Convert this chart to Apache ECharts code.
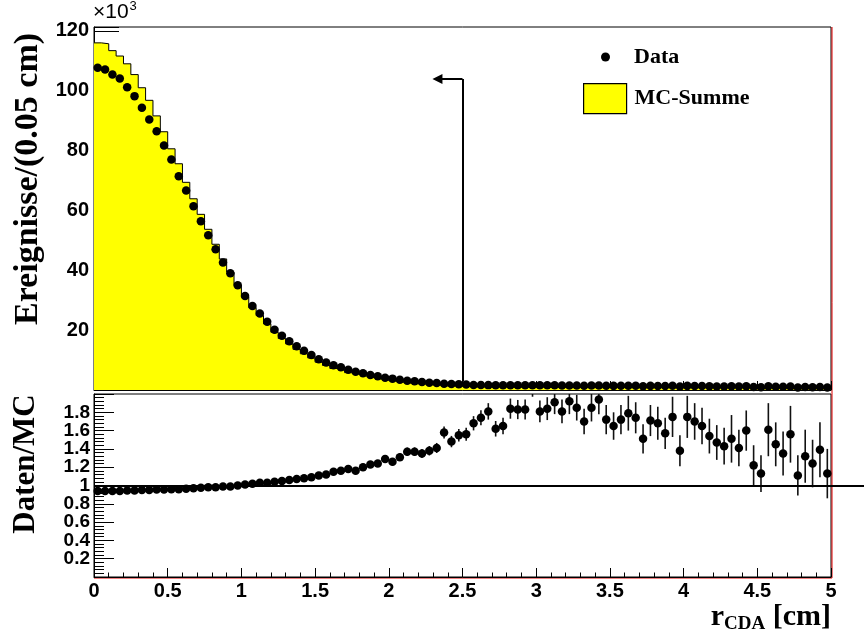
<!DOCTYPE html>
<html><head><meta charset="utf-8">
<script src="https://cdn.jsdelivr.net/npm/echarts@6/dist/echarts.min.js"></script>
<style>html,body{margin:0;padding:0;background:#fff}#c{width:864px;height:642px}</style>
</head><body><div id="c"></div>
<script>
// bin width of r_CDA histogram (cm)
const binWidth = 0.05;
const nBins = 100;
// Data counts per bin (in units of 10^3)
const dataCounts = [
  107.7,107.1,105.4,104.1,101.2,98.2,94.3,90.4,86.5,81.7,
  77.0,71.4,66.7,61.4,56.4,51.7,47.0,42.6,39.0,35.0,
  31.4,28.1,25.6,22.8,20.1,18.1,16.3,14.6,13.1,11.7,
  10.3,9.2,8.3,7.6,6.8,6.1,5.6,5.0,4.6,4.1,
  3.8,3.4,3.1,2.9,2.7,2.4,2.3,2.1,2.0,1.9,
  1.8,1.7,1.66,1.63,1.58,1.6,1.62,1.57,1.6,1.55,
  1.55,1.56,1.58,1.5,1.54,1.48,1.42,1.5,1.52,1.42,
  1.38,1.41,1.43,1.4,1.28,1.38,1.35,1.3,1.4,1.16,
  1.38,1.33,1.3,1.24,1.2,1.18,1.22,1.15,1.25,0.98,
  0.92,1.24,1.12,1.05,1.18,0.85,1.0,0.95,1.04,0.86
];
// MC sum per bin (in units of 10^3)
const mcCounts = [
  116.0,115.7,113.4,111.6,109.0,105.4,101.0,96.8,91.6,86.3,
  80.6,75.6,69.4,63.9,58.7,53.7,48.7,43.8,39.4,35.0,
  31.1,27.5,24.9,22.1,19.3,17.2,15.4,13.6,12.1,10.7,
  9.3,8.2,7.2,6.6,5.8,5.3,4.7,4.1,3.7,3.2,
  3.0,2.6,2.3,2.1,2.0,1.74,1.63,1.33,1.35,1.23,
  1.15,1.01,0.95,0.9,0.97,0.97,0.88,0.88,0.87,0.8,
  0.86,0.85,0.83,0.83,0.8,0.8,0.84,0.81,0.78,0.83,
  0.84,0.82,0.8,0.8,0.85,0.81,0.8,0.83,0.8,0.84,
  0.79,0.78,0.79,0.81,0.82,0.83,0.81,0.82,0.78,0.8,
  0.81,0.77,0.77,0.78,0.76,0.77,0.76,0.77,0.75,0.76
];
// Data / MC ratio per bin
const ratioValues = [
  0.94,0.94,0.94,0.94,0.945,0.945,0.95,0.95,0.955,0.955,
  0.96,0.96,0.965,0.97,0.975,0.98,0.98,0.99,0.99,1.0,
  1.01,1.02,1.03,1.03,1.04,1.05,1.06,1.07,1.08,1.09,
  1.11,1.12,1.15,1.16,1.18,1.16,1.20,1.23,1.24,1.29,
  1.26,1.31,1.37,1.37,1.35,1.38,1.41,1.58,1.48,1.55,
  1.56,1.68,1.74,1.81,1.62,1.65,1.84,1.83,1.83,2.1,
  1.81,1.84,1.91,1.81,1.92,1.85,1.70,1.85,1.94,1.72,
  1.65,1.72,1.79,1.74,1.51,1.71,1.68,1.57,1.75,1.38,
  1.75,1.70,1.65,1.54,1.47,1.43,1.51,1.41,1.60,1.22,
  1.13,1.61,1.45,1.35,1.56,1.11,1.32,1.24,1.39,1.13
];
// ratio uncertainties
const ratioErrors = [
  0.004,0.004,0.004,0.004,0.004,0.004,0.004,0.004,0.004,0.004,
  0.005,0.005,0.005,0.006,0.006,0.006,0.007,0.007,0.008,0.008,
  0.009,0.01,0.01,0.011,0.012,0.013,0.014,0.015,0.016,0.018,
  0.02,0.021,0.023,0.025,0.027,0.028,0.03,0.032,0.034,0.037,
  0.04,0.042,0.045,0.047,0.05,0.052,0.055,0.065,0.062,0.068,
  0.07,0.078,0.082,0.09,0.085,0.09,0.11,0.105,0.11,0.13,
  0.12,0.125,0.13,0.13,0.14,0.14,0.14,0.15,0.16,0.16,
  0.15,0.16,0.19,0.17,0.16,0.17,0.18,0.17,0.22,0.17,
  0.23,0.2,0.2,0.19,0.19,0.2,0.26,0.2,0.22,0.22,
  0.2,0.29,0.24,0.24,0.31,0.22,0.29,0.26,0.3,0.27
];
// cut marker: r_CDA < 2.5 cm
const cutValue = 2.5;
const cutArrowBottom = 2.8;
const cutArrowTop = 103.9;
const cutArrowEnd = 2.33;
const ratioReference = 1;
const ratioLineEnd = 5.3;
const legendNames = ['Data', 'MC-Summe'];

const binCenter = i => (i + 0.5) * binWidth;
const mcStep = mcCounts.map((v, i) => [i * binWidth, v]);
mcStep.push([nBins * binWidth, mcCounts[nBins - 1]]);

const tickFont = {fontFamily: 'Liberation Sans', fontWeight: 'bold', color: '#000'};
const serifBold = 'Liberation Serif';

const chart = echarts.init(document.getElementById('c'), null, {renderer: 'canvas'});
const axisCommon = {
  type: 'value', min: 0, max: 5, interval: 0.5,
  axisLine: {show: true, onZero: false, lineStyle: {color: '#000', width: 1}},
  axisTick: {show: true, inside: true, length: 9, lineStyle: {color: '#000', width: 1}},
  minorTick: {show: true, splitNumber: 5, length: 4.5, lineStyle: {color: '#000', width: 1}},
  splitLine: {show: false}
};
chart.setOption({
  animation: false,
  backgroundColor: '#fff',
  grid: [
    {left: 94, width: 737, top: 27, height: 363, show: true, borderColor: '#000', borderWidth: 1, backgroundColor: 'transparent'},
    {left: 94, width: 737, top: 394, height: 183, show: true, borderColor: '#000', borderWidth: 1, backgroundColor: 'transparent'}
  ],
  xAxis: [
    Object.assign({}, axisCommon, {gridIndex: 0, axisLabel: {show: false}}),
    Object.assign({}, axisCommon, {gridIndex: 1, axisLabel: Object.assign({show: true, fontSize: 20, margin: 4,
      formatter: v => String(+v.toFixed(1))}, tickFont)})
  ],
  yAxis: [
    {gridIndex: 0, type: 'value', min: 0, max: 121.3, interval: 20,
     axisLine: {show: true, onZero: false, lineStyle: {color: '#000', width: 1}},
     axisTick: {show: true, inside: true, length: 25, lineStyle: {color: '#000'}},
     minorTick: {show: true, splitNumber: 4, length: 12, lineStyle: {color: '#000'}},
     splitLine: {show: false},
     axisLabel: Object.assign({fontSize: 20, margin: 5,
       formatter: v => (v > 0 && Math.abs(v / 20 - Math.round(v / 20)) < 1e-6) ? String(Math.round(v)) : ''}, tickFont)},
    {gridIndex: 1, type: 'value', min: 0, max: 2, interval: 0.2,
     axisLine: {show: true, onZero: false, lineStyle: {color: '#000', width: 1}},
     axisTick: {show: true, inside: true, length: 20, lineStyle: {color: '#000'}},
     minorTick: {show: true, splitNumber: 5, length: 10, lineStyle: {color: '#000'}},
     splitLine: {show: false},
     axisLabel: Object.assign({fontSize: 19, margin: 4, lineHeight: 18,
       formatter: v => (v > 0.01 && v < 1.99) ? String(+v.toFixed(1)) : ''}, tickFont)}
  ],
  legend: [
    {data: [{name: legendNames[0], icon: 'circle'}], left: 601, top: 46, padding: 0, itemWidth: 9, itemHeight: 9,
     textStyle: {fontFamily: serifBold, fontWeight: 'bold', fontSize: 22, color: '#000', padding: [0, 0, 0, 19]},
     selectedMode: false},
    {data: [{name: legendNames[1], icon: 'rect'}], left: 583, top: 83, padding: 0, itemWidth: 43, itemHeight: 30,
     itemStyle: {color: '#ffff00', borderColor: '#000', borderWidth: 1.2},
     textStyle: {fontFamily: serifBold, fontWeight: 'bold', fontSize: 22, color: '#000', padding: [0, 0, 0, 3]},
     selectedMode: false}
  ],
  series: [
    {name: legendNames[1], type: 'line', xAxisIndex: 0, yAxisIndex: 0, step: 'end', data: mcStep,
     symbol: 'none', color: '#ffff00', itemStyle: {color: '#ffff00'},
     lineStyle: {color: '#000', width: 1}, areaStyle: {color: '#ffff00', opacity: 1}, z: 1},
    {name: legendNames[0], type: 'scatter', xAxisIndex: 0, yAxisIndex: 0,
     data: dataCounts.map((v, i) => [binCenter(i), v]), symbol: 'circle', symbolSize: 8.5,
     itemStyle: {color: '#000', opacity: 1}, z: 3},
    {type: 'lines', coordinateSystem: 'cartesian2d', xAxisIndex: 0, yAxisIndex: 0, silent: true,
     data: [{coords: [[cutValue, cutArrowBottom], [cutValue, cutArrowTop]]}],
     lineStyle: {color: '#000', width: 2, opacity: 1}, symbol: ['none', 'none'], z: 4},
    {type: 'lines', coordinateSystem: 'cartesian2d', xAxisIndex: 0, yAxisIndex: 0, silent: true,
     data: [{coords: [[cutValue, cutArrowTop], [cutArrowEnd, cutArrowTop]]}],
     lineStyle: {color: '#000', width: 2, opacity: 1}, symbol: ['none', 'triangle'], symbolSize: 10, z: 4},
    {type: 'custom', xAxisIndex: 1, yAxisIndex: 1, clip: true, silent: true,
     data: ratioValues.map((v, i) => [binCenter(i), v - ratioErrors[i], v + ratioErrors[i]]),
     encode: {x: 0, y: [1, 2]},
     renderItem: (params, api) => {
       const x = api.value(0);
       const p1 = api.coord([x, api.value(1)]);
       const p2 = api.coord([x, api.value(2)]);
       return {type: 'line', shape: {x1: p1[0], y1: p1[1], x2: p2[0], y2: p2[1]},
               style: {stroke: '#111', lineWidth: 1.6}};
     }, z: 2},
    {type: 'scatter', xAxisIndex: 1, yAxisIndex: 1, clip: true,
     data: ratioValues.map((v, i) => [binCenter(i), v]), symbol: 'circle', symbolSize: 8.5,
     itemStyle: {color: '#000', opacity: 1}, z: 3},
    {type: 'lines', coordinateSystem: 'cartesian2d', xAxisIndex: 1, yAxisIndex: 1, clip: false, silent: true,
     data: [{coords: [[0, ratioReference], [ratioLineEnd, ratioReference]]}],
     lineStyle: {color: '#000', width: 2, opacity: 1}, z: 4}
  ],
  graphic: [
    {type: 'text', x: 93, y: 24, style: {text: '×10{s|3}', fill: '#000',
      font: '21px "Liberation Sans"', verticalAlign: 'bottom',
      rich: {s: {fontSize: 13, fontFamily: 'Liberation Sans', verticalAlign: 'top', padding: [0, 0, 11, 1]}}}},
    {type: 'text', x: 28, y: 179, rotation: Math.PI / 2, style: {text: 'Ereignisse/(0.05 cm)', fill: '#000',
      font: 'bold 34px "Liberation Serif"', align: 'center', verticalAlign: 'middle'}},
    {type: 'text', x: 26, y: 464, rotation: Math.PI / 2, style: {text: 'Daten/MC', fill: '#000',
      font: 'bold 31px "Liberation Serif"', align: 'center', verticalAlign: 'middle'}},
    {type: 'text', x: 831, y: 634, style: {text: 'r{sub|CDA} [cm]', fill: '#000',
      font: 'bold 30px "Liberation Serif"', align: 'right', verticalAlign: 'bottom',
      rich: {sub: {fontSize: 19, fontWeight: 'bold', fontFamily: 'Liberation Serif', padding: [14, 0, 0, 0]}}}},
    {type: 'line', shape: {x1: 832, y1: 27, x2: 832, y2: 578}, style: {stroke: '#e00000', lineWidth: 1}},
    {type: 'line', shape: {x1: 94, y1: 578, x2: 832, y2: 578}, style: {stroke: '#e00000', lineWidth: 1}}
  ]
});
</script></body></html>
